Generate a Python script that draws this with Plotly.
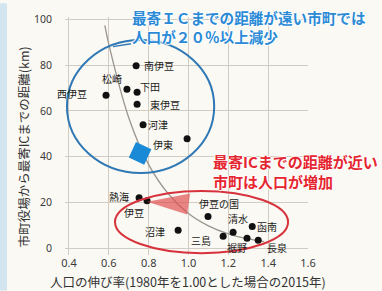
import plotly.graph_objects as go

# ---- data ----
towns = ["西伊豆", "松崎", "南伊豆", "下田", "東伊豆", "河津", "伊東",
         "熱海", "伊豆", "沼津", "伊豆の国", "清水", "函南", "三島", "裾野", "長泉"]
growth = [0.586, 0.691, 0.737, 0.742, 0.742, 0.772, 0.993,
          0.752, 0.792, 0.948, 1.098, 1.224, 1.320, 1.174, 1.294, 1.350]
distance_km = [66.8, 69.4, 79.7, 68.1, 62.9, 53.9, 47.8,
               22.0, 20.7, 7.8, 13.8, 6.9, 9.5, 5.2, 4.3, 3.4]
# label offsets in pixels (dx right, dy up)
label_dx = [-34, -15, 23, 13, 28, 15, -24, -20, -13, -23, 11, 5, 15, -22, -10, 19]
label_dy = [2, 11, 0, 6, 0, 0, -6, 1, -12, -1, 13, 14, 0, -4, -9, -7]

trend_x = [0.58, 0.60, 0.70, 0.80, 0.90, 1.00, 1.10, 1.20, 1.30, 1.38]
trend_y = [97.3, 89.0, 57.0, 36.5, 23.6, 15.1, 9.7, 6.2, 4.0, 2.8]

mean_far = ([0.757], [41.4])

x_ticks = [0.4, 0.6, 0.8, 1.0, 1.2, 1.4, 1.6]
y_ticks = [0, 20, 40, 60, 80, 100]

FONT = "Noto Sans CJK JP"
BG = "#faf9f3"

fig = go.Figure()

fig.add_trace(go.Scatter(x=trend_x, y=trend_y, mode="lines",
                         line=dict(color="#9a958e", width=1.3, shape="spline"),
                         hoverinfo="skip", showlegend=False))

fig.add_trace(go.Scatter(x=growth, y=distance_km, mode="markers",
                         marker=dict(color="#111111", size=7),
                         showlegend=False))

fig.add_trace(go.Scatter(x=mean_far[0], y=mean_far[1], mode="markers",
                         marker=dict(color="#1a8ad6", size=17, symbol="square", angle=25,
                                     line=dict(width=0)),
                         showlegend=False))

# blue circle (far group)
fig.add_shape(type="circle", xref="x", yref="y", x0=0.39, x1=1.129, y0=32.8, y1=90.9,
              line=dict(color="#2f78b5", width=2))


def px_x(p):
    return (p - 65) / 243


def px_y(p):
    return (255 - p) / 241


# short connector from circle to blue text
fig.add_shape(type="line", xref="paper", yref="paper",
              x0=px_x(113), y0=px_y(44), x1=px_x(131), y1=px_y(41),
              line=dict(color="#2f78b5", width=1.5))
# red ellipse (near group)
fig.add_shape(type="circle", xref="x", yref="y", x0=0.631, x1=1.50, y0=-2.2, y1=25.0,
              line=dict(color="#d7323c", width=2))
# red pointer wedge
fig.add_shape(type="path", xref="x", yref="y",
              path="M 0.792,20.3 L 1.008,23.9 L 0.993,14.7 Z",
              fillcolor="rgba(222,70,70,0.65)", line=dict(width=0))

# point labels
for t, x, y, dx, dy in zip(towns, growth, distance_km, label_dx, label_dy):
    fig.add_annotation(x=x, y=y, text=t, showarrow=False, xshift=dx, yshift=dy,
                       font=dict(family=FONT, size=10, color="#1a1a1a"))

shadow = "1px 0 1px #ffffff, -1px 0 1px #ffffff, 0 1px 1px #ffffff, 0 -1px 1px #ffffff"
fig.add_annotation(xref="paper", yref="paper", x=px_x(130), y=px_y(24), xanchor="left", yanchor="middle",
                   text="最寄ＩＣまでの距離が遠い市町では<br>人口が２０％以上減少", showarrow=False,
                   align="left",
                   font=dict(family=FONT, size=14.6, color="#2a8ad6", weight="bold", shadow=shadow))
fig.add_annotation(xref="paper", yref="paper", x=px_x(211), y=px_y(170), xanchor="left", yanchor="middle",
                   text="最寄ICまでの距離が近い<br>市町は人口が増加", showarrow=False,
                   align="left",
                   font=dict(family=FONT, size=15, color="#e5252f", weight="bold", shadow=shadow))

# axis titles
fig.add_annotation(xref="paper", yref="paper", x=px_x(188), y=px_y(282), xanchor="center", yanchor="middle",
                   text="人口の伸び率(1980年を1.00とした場合の2015年)", showarrow=False,
                   font=dict(family=FONT, size=12.5, color="#333333"))
fig.add_annotation(xref="paper", yref="paper", x=px_x(23), y=px_y(146), xanchor="center", yanchor="middle",
                   text="市町役場から最寄ICまでの距離(km)", showarrow=False, textangle=-90,
                   font=dict(family=FONT, size=12.5, color="#333333"))

# light blue strip at the left edge of the scan
fig.add_shape(type="rect", xref="paper", yref="paper", x0=px_x(0), x1=px_x(7), y0=px_y(291), y1=px_y(0),
              fillcolor="#d3e6ef", line=dict(width=0), layer="below")

fig.update_layout(
    width=382, height=291,
    margin=dict(l=65, r=74, t=14, b=36),
    paper_bgcolor=BG, plot_bgcolor=BG,
    showlegend=False,
    font=dict(family=FONT),
)
fig.update_xaxes(range=[0.38, 1.6], tickvals=x_ticks, ticktext=[f"{v:.1f}" for v in x_ticks],
                 showgrid=True, gridcolor="#d2cdc4", gridwidth=1, zeroline=False, showline=False,
                 tickfont=dict(family="Noto Sans", size=11, color="#3a3a3a"), ticks="")
fig.update_yaxes(range=[-3, 101], tickvals=y_ticks,
                 showgrid=True, gridcolor="#d2cdc4", gridwidth=1, zeroline=False, showline=False,
                 tickfont=dict(family="Noto Sans", size=10.5, color="#3a3a3a"), ticks="",
                 ticklabelstandoff=12)

fig.write_html("out.html", config={"displayModeBar": False},
               post_script="document.body.style.margin='0';document.body.style.background='" + BG + "';")
